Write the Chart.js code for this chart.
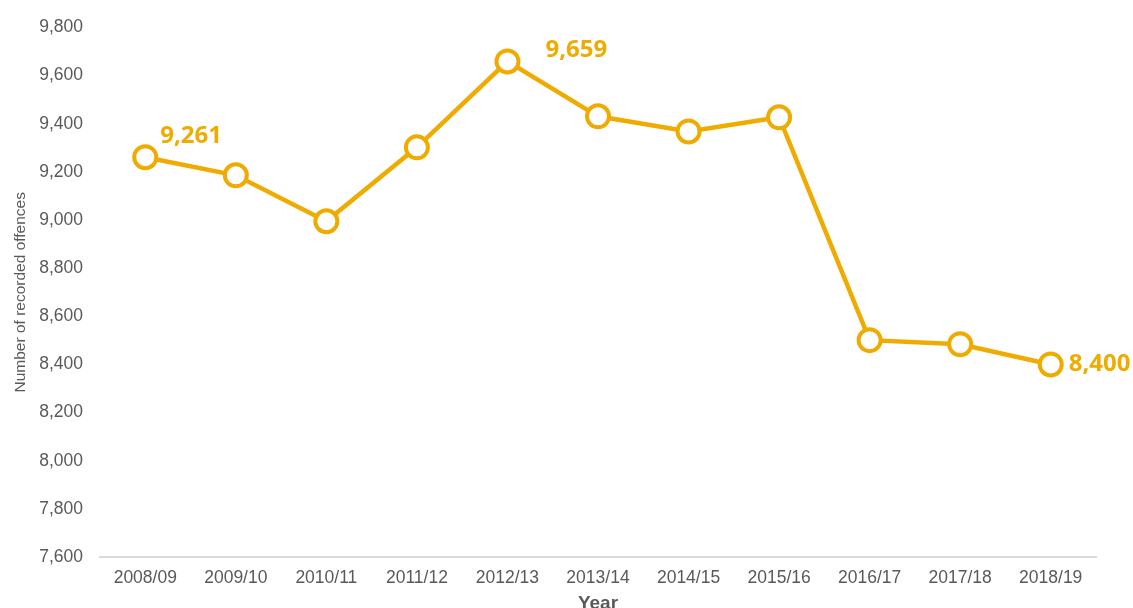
<!DOCTYPE html>
<html>
<head>
<meta charset="utf-8">
<script src="https://cdn.jsdelivr.net/npm/chart.js@4/dist/chart.umd.min.js"></script>
<style>
  html, body { margin: 0; padding: 0; background: #fff; }
  #wrap { width: 1133px; height: 608px; }
</style>
</head>
<body>
<div id="wrap"><canvas id="offencesChart" width="1133" height="608"></canvas></div>
<script>
// data
const years = ['2008/09', '2009/10', '2010/11', '2011/12', '2012/13', '2013/14',
               '2014/15', '2015/16', '2016/17', '2017/18', '2018/19'];
const offences = [9261, 9186, 8995, 9302, 9659, 9431, 9368, 9427, 8501, 8484, 8400];
const labelledYears = ['2008/09', '2012/13', '2018/19'];

const yMin = 7600;
const yMax = 9800;
const yStep = 200;

const orange = '#efab00';
const greyText = '#595959';
const axisFont = 'Liberation Sans, Arial, sans-serif';

// draw value labels next to some of the points
const pointLabels = {
    id: 'pointLabels',
    afterDatasetsDraw(chart) {
        const ctx = chart.ctx;
        const meta = chart.getDatasetMeta(0);
        ctx.save();
        ctx.font = 'bold 24px "Open Sans", "Noto Sans", sans-serif';
        ctx.fillStyle = orange;
        ctx.textBaseline = 'middle';
        ctx.textAlign = 'left';
        years.forEach((yr, i) => {
            if (!labelledYears.includes(yr)) return;
            const pt = meta.data[i];
            const txt = offences[i].toLocaleString('en-GB');
            if (i === 0) {
                ctx.fillText(txt, pt.x + 15, pt.y - 21);
            } else if (i === years.length - 1) {
                ctx.fillText(txt, pt.x + 18, pt.y);
            } else {
                ctx.fillText(txt, pt.x + 38, pt.y - 11);
            }
        });
        ctx.restore();
    }
};

const ctx = document.getElementById('offencesChart').getContext('2d');
new Chart(ctx, {
    type: 'line',
    data: {
        labels: years,
        datasets: [{
            data: offences,
            borderColor: orange,
            borderWidth: 4.5,
            pointRadius: 11,
            pointBorderWidth: 4,
            pointBackgroundColor: '#ffffff',
            pointBorderColor: orange,
            tension: 0
        }]
    },
    options: {
        responsive: false,
        animation: false,
        layout: { padding: { top: 18, right: 37, left: 0, bottom: 0 } },
        plugins: {
            legend: { display: false },
            tooltip: { enabled: false }
        },
        scales: {
            x: {
                offset: true,
                grid: { display: false, drawTicks: false },
                border: { display: true, color: '#d9d9d9', width: 2 },
                ticks: {
                    color: greyText,
                    font: { family: axisFont, size: 17.5 },
                    padding: 11,
                    maxRotation: 0
                },
                title: {
                    display: true,
                    text: 'Year',
                    color: greyText,
                    font: { family: axisFont, size: 19, weight: 'bold' },
                    padding: { top: 0, bottom: -7 }
                },
                afterFit(scale) { scale.height = 51; }
            },
            y: {
                min: yMin,
                max: yMax,
                grid: { display: false, drawTicks: false },
                border: { display: false },
                ticks: {
                    stepSize: yStep,
                    color: greyText,
                    font: { family: axisFont, size: 17.5 },
                    padding: 17,
                    callback: v => v.toLocaleString('en-GB')
                },
                title: {
                    display: true,
                    text: 'Number of recorded offences',
                    color: greyText,
                    font: { family: axisFont, size: 15.5 },
                    padding: { top: 11, bottom: 4 }
                },
                afterFit(scale) { scale.width = 100; }
            }
        }
    },
    plugins: [pointLabels]
});
</script>
</body>
</html>
